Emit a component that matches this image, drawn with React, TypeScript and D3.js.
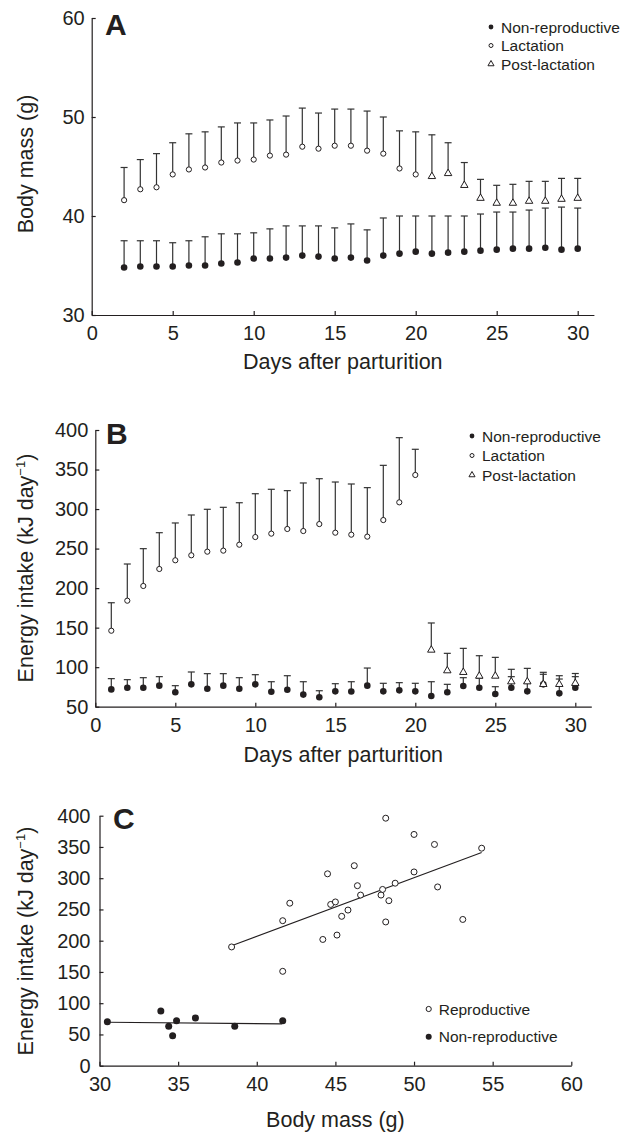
import React, { useEffect, useRef } from "react";
import * as d3 from "d3";

const W = 634;
const H = 1133;
const FONT = "'Liberation Sans', Arial, Helvetica, sans-serif";
const INK = "#231f20";

// Panel A: body mass (g), mean and upper end of the error bar
const daysA = [2, 3, 4, 5, 6, 7, 8, 9, 10, 11, 12, 13, 14, 15, 16, 17, 18, 19, 20, 21, 22, 23, 24, 25, 26, 27, 28, 29, 30];
const nonRepA = [34.8, 34.9, 34.9, 34.9, 35.0, 35.0, 35.2, 35.3, 35.7, 35.7, 35.8, 36.0, 35.9, 35.7, 35.8, 35.5, 36.0, 36.2, 36.4, 36.2, 36.3, 36.4, 36.5, 36.6, 36.7, 36.7, 36.8, 36.6, 36.7];
const nonRepAUp = [37.5, 37.5, 37.5, 37.3, 37.5, 37.9, 38.2, 38.2, 38.3, 38.7, 39.0, 39.0, 39.0, 38.8, 39.2, 38.6, 39.8, 40.0, 40.0, 40.0, 40.0, 40.0, 40.2, 40.4, 40.4, 40.6, 40.8, 40.9, 40.8];
const lactDaysA = [2, 3, 4, 5, 6, 7, 8, 9, 10, 11, 12, 13, 14, 15, 16, 17, 18, 19, 20];
const lactA = [41.6, 42.7, 42.9, 44.2, 44.7, 44.9, 45.4, 45.6, 45.7, 46.1, 46.2, 47.0, 46.8, 47.1, 47.1, 46.6, 46.3, 44.8, 44.2];
const lactAUp = [44.9, 45.7, 46.3, 47.4, 48.3, 48.5, 49.0, 49.4, 49.4, 49.7, 50.1, 50.9, 50.4, 50.8, 50.8, 50.6, 50.0, 48.6, 48.5];
const postDaysA = [21, 22, 23, 24, 25, 26, 27, 28, 29, 30];
const postA = [44.0, 44.3, 43.1, 41.8, 41.3, 41.3, 41.5, 41.5, 41.7, 41.8];
const postAUp = [48.2, 47.4, 45.4, 43.7, 43.1, 43.2, 43.5, 43.5, 43.8, 43.8];

// Panel B: energy intake (kJ/day)
const daysB = [1, 2, 3, 4, 5, 6, 7, 8, 9, 10, 11, 12, 13, 14, 15, 16, 17, 18, 19, 20, 21, 22, 23, 24, 25, 26, 27, 28, 29, 30];
const nonRepB = [71.9, 74.0, 74.0, 76.6, 68.2, 78.3, 72.7, 76.6, 72.7, 78.3, 69.0, 71.5, 65.3, 61.9, 69.4, 69.2, 76.6, 69.4, 70.7, 69.4, 63.5, 68.2, 76.2, 74.0, 66.0, 74.0, 69.4, 78.3, 66.9, 74.0];
const nonRepBUp = [85.5, 84.2, 86.7, 88.0, 76.6, 93.9, 91.8, 91.8, 86.7, 90.5, 81.6, 89.2, 81.6, 70.2, 79.1, 81.6, 98.9, 79.6, 80.4, 79.6, 81.6, 78.3, 86.7, 86.0, 75.3, 88.0, 80.0, 91.0, 85.0, 88.0];
const lactDaysB = [1, 2, 3, 4, 5, 6, 7, 8, 9, 10, 11, 12, 13, 14, 15, 16, 17, 18, 19, 20];
const lactB = [146.1, 184.1, 202.7, 224.2, 235.2, 241.5, 246.1, 247.4, 254.9, 264.6, 268.9, 274.8, 272.2, 281.0, 270.1, 267.6, 265.1, 286.1, 308.5, 343.1];
const lactBUp = [181.5, 230.5, 249.9, 270.1, 282.4, 292.5, 299.7, 302.2, 308.0, 319.4, 325.0, 323.3, 333.0, 338.4, 334.2, 331.7, 327.1, 355.3, 390.3, 375.6];
const postDaysB = [21, 22, 23, 24, 25, 26, 27, 28, 29, 30];
const postB = [121.7, 95.6, 93.5, 88.8, 88.8, 81.6, 81.6, 78.3, 78.3, 79.6];
const postBUp = [155.9, 117.5, 123.8, 114.5, 112.4, 97.3, 98.5, 93.5, 89.2, 92.0];

// Panel C: energy intake vs body mass
const repMass = [38.4, 41.65, 42.1, 41.65, 48.2, 50.0, 51.3, 54.3, 46.2, 44.5, 50.0, 48.8, 46.4, 51.5, 48.0, 46.6, 47.9, 48.4, 44.7, 45.0, 45.8, 45.4, 48.2, 53.1, 45.1, 44.2];
const repIntake = [190, 232, 260, 151, 396, 370, 354, 348, 320, 307, 310, 292, 288, 286, 282, 273, 273, 264, 258, 262, 249, 239, 230, 234, 209, 202];
const nonRepMass = [30.5, 33.9, 34.4, 34.65, 34.9, 36.1, 38.6, 41.65];
const nonRepIntake = [70.4, 87.5, 63.0, 48.0, 72.0, 76.3, 63.0, 72.0];
const repFitMass = [38.4, 54.3];
const repFitIntake = [192, 341];
const nonRepFitMass = [30.5, 41.6];
const nonRepFitIntake = [69.5, 67.0];

const dayTicks = [0, 5, 10, 15, 20, 25, 30];
const massTicksA = [30, 40, 50, 60];
const intakeTicksB = [50, 100, 150, 200, 250, 300, 350, 400];
const intakeTicksC = [0, 50, 100, 150, 200, 250, 300, 350, 400];
const massTicksC = [30, 35, 40, 45, 50, 55, 60];

const legendAB = ["Non-reproductive", "Lactation", "Post-lactation"];
const legendC = ["Reproductive", "Non-reproductive"];

type Sel = d3.Selection<SVGGElement, unknown, null, undefined>;
type Scale = d3.ScaleLinear<number, number>;

const axes = (g: Sel, x: Scale, y: Scale, xt: number[], yt: number[], pad: number) => {
  const ax = g.append("g")
    .attr("transform", `translate(0,${y.range()[0]})`)
    .call(d3.axisBottom(x).tickValues(xt).tickSizeInner(-4).tickSizeOuter(0).tickPadding(11));
  const ay = g.append("g")
    .attr("transform", `translate(${x.range()[0]},0)`)
    .call(d3.axisLeft(y).tickValues(yt).tickSizeInner(-4).tickSizeOuter(0).tickPadding(pad));
  [ax, ay].forEach((a) => {
    a.attr("font-size", 20).attr("font-family", FONT).attr("color", INK);
    a.select(".domain").attr("stroke-width", 1.2);
    a.selectAll(".tick line").attr("stroke-width", 1.2);
  });
};

const bars = (g: Sel, x: Scale, y: Scale, days: number[], up: number[], mean: number[]) => {
  const b = g.append("g").attr("stroke", "#333").attr("stroke-width", 1.2);
  b.selectAll("line.v").data(days).join("line")
    .attr("x1", (d) => x(d)).attr("x2", (d) => x(d))
    .attr("y1", (d, i) => y(mean[i])).attr("y2", (d, i) => y(up[i]));
  b.selectAll("line.c").data(days).join("line")
    .attr("x1", (d) => x(d) - 3.5).attr("x2", (d) => x(d) + 3.5)
    .attr("y1", (d, i) => y(up[i])).attr("y2", (d, i) => y(up[i]));
};

const marks = (g: Sel, xs: number[], ys: number[], x: Scale, y: Scale, kind: string, r = 3) => {
  if (kind === "tri") {
    g.append("g").selectAll("path").data(xs).join("path")
      .attr("d", d3.symbol().type(d3.symbolTriangle).size(24)())
      .attr("transform", (d, i) => `translate(${x(d)},${y(ys[i])})`)
      .attr("fill", "white").attr("stroke", INK).attr("stroke-width", 1);
    return;
  }
  g.append("g").selectAll("circle").data(xs).join("circle")
    .attr("cx", (d) => x(d)).attr("cy", (d, i) => y(ys[i]))
    .attr("r", kind === "fill" ? r + 0.3 : r - 0.4)
    .attr("fill", kind === "fill" ? INK : "white")
    .attr("stroke", INK).attr("stroke-width", kind === "fill" ? 0 : 1);
};

const legend = (g: Sel, x: number, y0: number, gap: number, labels: string[], kinds: string[], r: number) => {
  labels.forEach((lab, i) => {
    const yy = y0 + i * gap;
    if (kinds[i] === "tri") {
      g.append("path").attr("d", d3.symbol().type(d3.symbolTriangle).size(16)())
        .attr("transform", `translate(${x},${yy})`)
        .attr("fill", "white").attr("stroke", INK).attr("stroke-width", 1);
    } else {
      g.append("circle").attr("cx", x).attr("cy", yy).attr("r", kinds[i] === "fill" ? r : r - 0.4)
        .attr("fill", kinds[i] === "fill" ? INK : "white")
        .attr("stroke", INK).attr("stroke-width", kinds[i] === "fill" ? 0 : 1);
    }
    g.append("text").attr("x", x + 10).attr("y", yy + 5.5)
      .attr("font-size", 15.5).attr("font-family", FONT).attr("fill", INK).text(lab);
  });
};

const yLabel = (g: Sel, cy: number, main: string, sup?: string) => {
  const t = g.append("text")
    .attr("transform", `translate(33,${cy}) rotate(-90)`)
    .attr("text-anchor", "middle")
    .attr("font-size", 21.5).attr("font-family", FONT).attr("fill", INK);
  t.append("tspan").text(main);
  if (sup) {
    t.append("tspan").attr("dy", -8).attr("font-size", 13).text(sup);
    t.append("tspan").attr("dy", 8).text(")");
  }
};

const xLabel = (g: Sel, x: Scale, baseline: number, label: string) => {
  const [a, b] = x.range();
  g.append("text").attr("x", (a + b) / 2).attr("y", baseline)
    .attr("text-anchor", "middle").attr("font-size", 21.5)
    .attr("font-family", FONT).attr("fill", INK).text(label);
};

const letter = (g: Sel, x: number, y: number, l: string) => {
  g.append("text").attr("x", x).attr("y", y).attr("font-size", 30)
    .attr("font-weight", "bold").attr("font-family", FONT).attr("fill", INK).text(l);
};

const App = () => {
  const ref = useRef<SVGSVGElement>(null);

  useEffect(() => {
    const svg = d3.select(ref.current);
    svg.selectAll("*").remove();
    const root = svg.append("g") as unknown as Sel;

    // A
    const xA = d3.scaleLinear().domain([0, 31]).range([91.7, 593.9]);
    const yA = d3.scaleLinear().domain([30, 60]).range([315, 18]);
    const gA = root.append("g");
    axes(gA, xA, yA, dayTicks, massTicksA, 7);
    bars(gA, xA, yA, daysA, nonRepAUp, nonRepA);
    bars(gA, xA, yA, lactDaysA, lactAUp, lactA);
    bars(gA, xA, yA, postDaysA, postAUp, postA);
    marks(gA, daysA, nonRepA, xA, yA, "fill");
    marks(gA, lactDaysA, lactA, xA, yA, "open");
    marks(gA, postDaysA, postA, xA, yA, "tri");
    legend(gA, 491, 27, 18.5, legendAB, ["fill", "open", "tri"], 2.4);
    yLabel(gA, 164, "Body mass (g)");
    xLabel(gA, xA, 369, "Days after parturition");
    letter(gA, 105, 35, "A");

    // B
    const xB = d3.scaleLinear().domain([0, 31]).range([95.3, 591.3]);
    const yB = d3.scaleLinear().domain([50, 400]).range([706.7, 430]);
    const gB = root.append("g");
    axes(gB, xB, yB, dayTicks, intakeTicksB, 7);
    bars(gB, xB, yB, daysB, nonRepBUp, nonRepB);
    bars(gB, xB, yB, lactDaysB, lactBUp, lactB);
    bars(gB, xB, yB, postDaysB, postBUp, postB);
    marks(gB, daysB, nonRepB, xB, yB, "fill");
    marks(gB, lactDaysB, lactB, xB, yB, "open");
    marks(gB, postDaysB, postB, xB, yB, "tri");
    legend(gB, 472, 436, 19.5, legendAB, ["fill", "open", "tri"], 2.4);
    yLabel(gB, 568, "Energy intake (kJ day", "\u22121");
    xLabel(gB, xB, 762, "Days after parturition");
    letter(gB, 106, 444, "B");

    // C
    const xC = d3.scaleLinear().domain([30, 60]).range([99.5, 571.3]);
    const yC = d3.scaleLinear().domain([0, 400]).range([1065.7, 815.7]);
    const gC = root.append("g");
    axes(gC, xC, yC, massTicksC, intakeTicksC, 9);
    const line = d3.line<number>().x((d) => xC(d));
    gC.append("path")
      .attr("d", line.y((d, i) => yC(repFitIntake[i]))(repFitMass))
      .attr("fill", "none").attr("stroke", INK).attr("stroke-width", 1.1);
    gC.append("path")
      .attr("d", line.y((d, i) => yC(nonRepFitIntake[i]))(nonRepFitMass))
      .attr("fill", "none").attr("stroke", INK).attr("stroke-width", 1.1);
    marks(gC, nonRepMass, nonRepIntake, xC, yC, "fill", 3.2);
    marks(gC, repMass, repIntake, xC, yC, "open", 3.4);
    legend(gC, 428.7, 1009, 27.7, legendC, ["open", "fill"], 3);
    yLabel(gC, 941, "Energy intake (kJ day", "\u22121");
    xLabel(gC, xC, 1127, "Body mass (g)");
    letter(gC, 113, 829, "C");
  }, []);

  return (
    <svg ref={ref} width={W} height={H}
      style={{ position: "absolute", left: 0, top: 0, background: "white" }} />
  );
};

export default App;
